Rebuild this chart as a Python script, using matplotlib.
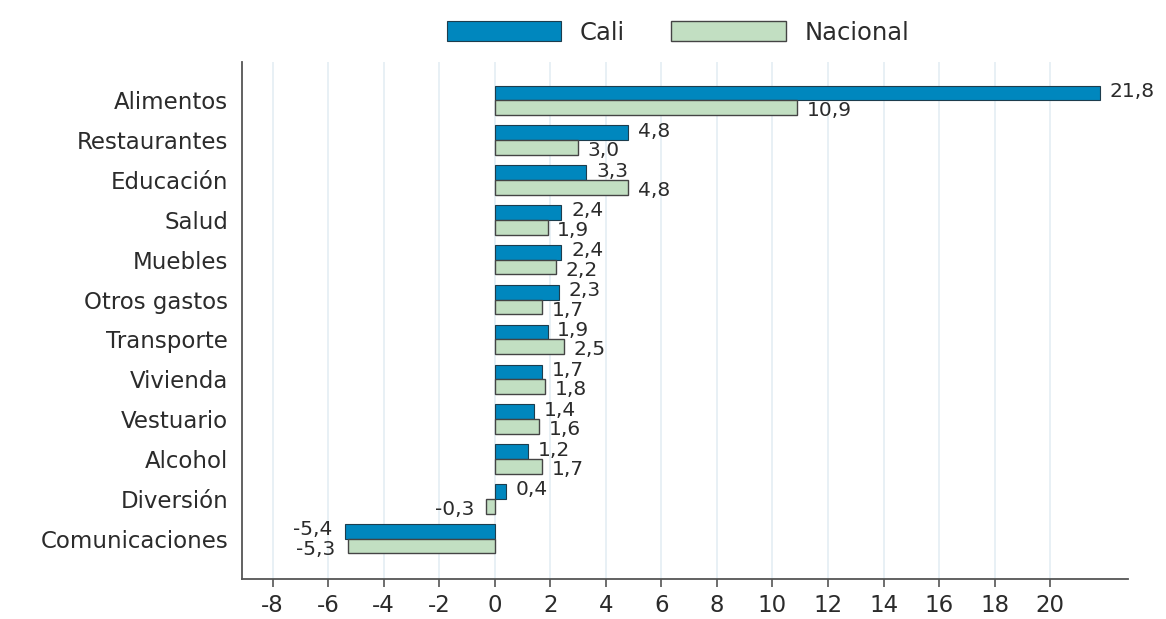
import matplotlib.pyplot as plt
import numpy as np

plt.rcParams['font.family'] = ['DejaVu Sans']

categorias = ['Alimentos', 'Restaurantes', 'Educación', 'Salud', 'Muebles',
              'Otros gastos', 'Transporte', 'Vivienda', 'Vestuario', 'Alcohol',
              'Diversión', 'Comunicaciones']
cali = [21.8, 4.8, 3.3, 2.4, 2.4, 2.3, 1.9, 1.7, 1.4, 1.2, 0.4, -5.4]
nacional = [10.9, 3.0, 4.8, 1.9, 2.2, 1.7, 2.5, 1.8, 1.6, 1.7, -0.3, -5.3]
xticks = list(range(-8, 21, 2))

azul = '#0087BE'
verde = '#C2DFC2'
texto = '#2b2b2b'

fig = plt.figure(figsize=(11.66, 6.19), dpi=100)
ax = fig.add_axes([242 / 1166, 1 - 579 / 619, (1128 - 242) / 1166, (579 - 62) / 619])

y = np.arange(len(categorias))
h = 0.37
ax.barh(y - h / 2, cali, height=h, color=azul, edgecolor='#1d3d4d', linewidth=0.8,
        label='Cali', zorder=3)
ax.barh(y + h / 2, nacional, height=h, color=verde, edgecolor='#444444', linewidth=1.0,
        label='Nacional', zorder=3)

def etiqueta(v, yy):
    s = f'{v:.1f}'.replace('.', ',')
    if v >= 0:
        ax.annotate(s, (v, yy), xytext=(7, 0), textcoords='offset points',
                    ha='left', va='center', fontsize=14.5, color=texto)
    else:
        ax.annotate(s, (v, yy), xytext=(-9, 0), textcoords='offset points',
                    ha='right', va='center', fontsize=14.5, color=texto)

for i in range(len(categorias)):
    etiqueta(cali[i], y[i] - h / 2 - 0.04)
    etiqueta(nacional[i], y[i] + h / 2 + 0.08)

ax.set_xlim(-9.1, 22.8)
ax.set_ylim(len(categorias) - 1 + 1.01, -0.96)
ax.set_xticks(xticks)
ax.set_xticklabels([str(t) for t in xticks], fontsize=16.5, color=texto)
ax.set_yticks(y)
ax.set_yticklabels(categorias, fontsize=16.5, color=texto)
ax.tick_params(axis='y', length=0, pad=10)
ax.tick_params(axis='x', length=6, width=1.2, color='#555555', pad=5)
ax.grid(axis='x', color='#E4EDF3', linewidth=1.2, zorder=0)
for s in ['top', 'right']:
    ax.spines[s].set_visible(False)
for s in ['left', 'bottom']:
    ax.spines[s].set_color('#555555')
    ax.spines[s].set_linewidth(1.3)

fig.legend(loc='center', bbox_to_anchor=(678 / 1166, 1 - 32.5 / 619), ncol=2, frameon=False,
           fontsize=17.5, handlelength=4.7, handleheight=0.86, columnspacing=1.9,
           handletextpad=0.78, labelcolor=texto)

fig.savefig('out.png', dpi=100)
